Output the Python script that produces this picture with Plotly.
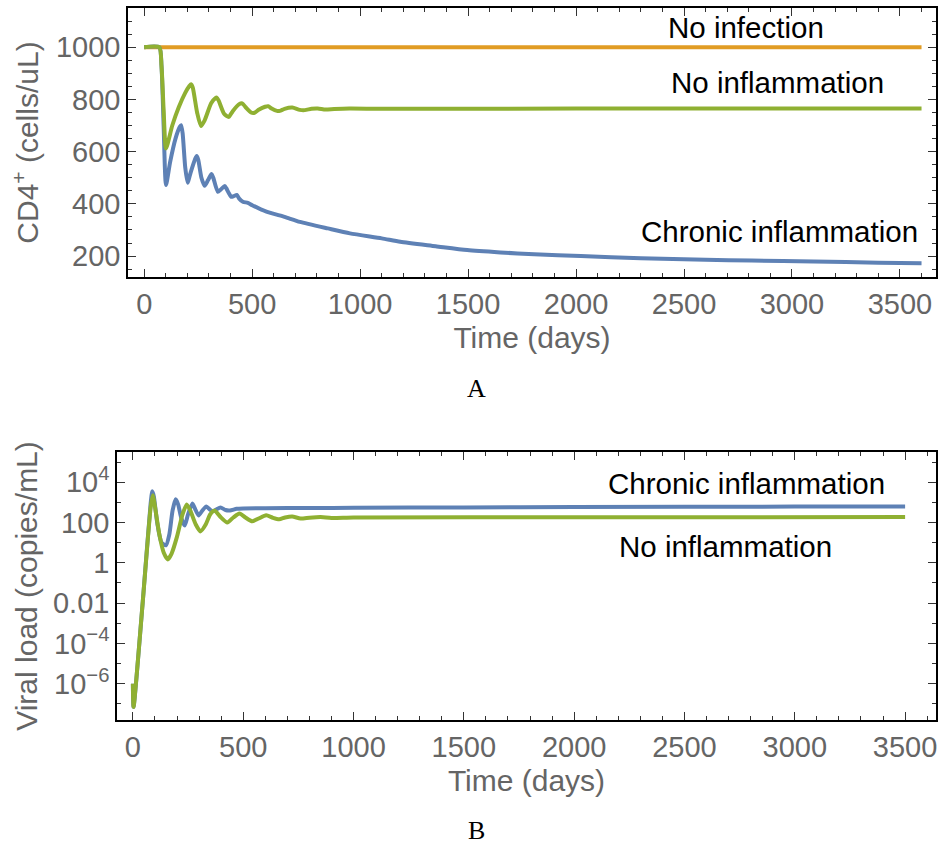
import plotly.graph_objects as go

# ---------------- Data ----------------
# Panel A: CD4+ count (cells/uL) vs time (days)
t_noinf = [0, 3600]
cd4_noinf = [1000, 1000]

t_noinfl = [0, 70, 80, 90, 101, 130, 160, 190, 210, 217, 225, 245, 263, 280, 310, 330, 336, 345,
            370, 392, 410, 440, 454, 470, 495, 511, 530, 560, 574, 590, 615, 628, 650, 686, 720,
            744, 775, 804, 840, 880, 950, 1100, 2000, 3600]
cd4_noinfl = [1000, 1000, 930, 760, 612, 700, 770, 825, 852, 858, 845, 750, 698, 720, 785, 805, 807, 795,
              745, 733, 755, 782, 785, 770, 750, 749, 760, 772, 774, 765, 756, 756, 764, 769, 760,
              759, 764, 765, 761, 763, 765, 764, 765, 765]

t_chronic = [0, 70, 80, 90, 101, 120, 145, 165, 171, 178, 190, 201, 215, 235, 243, 250, 265, 280, 295,
             310, 313, 320, 341, 355, 373, 380, 403, 415, 429, 440, 457, 480, 500, 566, 650, 721, 850,
             953, 1100, 1186, 1350, 1496, 1650, 1806, 2022, 2300, 2600, 2813, 3100, 3400, 3600]
cd4_chronic = [1000, 1000, 930, 700, 472, 560, 650, 695, 701, 670, 540, 481, 520, 570, 583, 570, 500, 469, 490,
               512, 514, 500, 446, 455, 468, 460, 427, 430, 434, 420, 408, 404, 395, 370, 350, 331, 306,
               287, 268, 255, 238, 223, 214, 207, 200, 192, 186, 183, 179, 175, 173]

# Panel B: viral load, stored as log10(copies/mL)
t_vl_noinfl = [0, 3, 45, 80, 90, 100, 120, 140, 158, 175, 200, 225, 244, 260, 285, 306, 330, 350, 370,
               395, 428, 455, 483, 510, 541, 570, 604, 635, 663, 690, 722, 760, 800, 850, 900, 1000, 2000, 3500]
log_vl_noinfl = [-6.0, -7.15, -1.9, 2.7, 3.35, 2.8, 1.4, 0.5, 0.17, 0.45, 1.3, 2.4, 2.9, 2.6, 1.9, 1.56, 1.9, 2.4, 2.6,
                 2.3, 2.0, 2.25, 2.45, 2.25, 2.06, 2.2, 2.36, 2.23, 2.16, 2.25, 2.3, 2.2, 2.24, 2.27, 2.23, 2.25, 2.26, 2.27]

t_vl_chronic = [0, 3, 45, 80, 88, 95, 110, 130, 150, 165, 180, 194, 205, 220, 235, 250, 270, 285, 298, 315,
                333, 348, 361, 378, 397, 420, 440, 470, 500, 600, 800, 1000, 1500, 2000, 3000, 3500]
log_vl_chronic = [-6.0, -7.15, -1.9, 2.9, 3.55, 3.3, 2.0, 1.0, 0.87, 1.4, 2.6, 3.15, 2.9, 2.2, 1.85, 2.4, 2.95, 2.6, 2.35, 2.6,
                  2.8, 2.65, 2.55, 2.65, 2.75, 2.62, 2.6, 2.68, 2.7, 2.71, 2.72, 2.73, 2.75, 2.77, 2.79, 2.8]

cd4_ticks = [200, 400, 600, 800, 1000]
time_ticks = [0, 500, 1000, 1500, 2000, 2500, 3000, 3500]
vl_tickvals = [1e-6, 1e-4, 1e-2, 1, 100, 1e4]
vl_ticktext = ["10<sup>\u22126</sup>", "10<sup>\u22124</sup>", "0.01", "1", "100", "10<sup>4</sup>"]

# ---------------- Styling ----------------
BLUE = "#5E81B5"
ORANGE = "#E19C24"
GREEN = "#8FB032"
GRAY = "#656565"
FONT = "Liberation Sans"
W, H = 941, 845
TICKSIZE = 29
TITLESIZE = 30

def curve(x, y, color, xa, ya):
    return go.Scatter(x=x, y=y, mode="lines", line=dict(color=color, width=4, shape="spline", smoothing=0.6),
                      xaxis=xa, yaxis=ya, showlegend=False)

fig = go.Figure()
fig.add_trace(curve(t_noinf, cd4_noinf, ORANGE, "x", "y"))
fig.add_trace(curve(t_chronic, cd4_chronic, BLUE, "x", "y"))
fig.add_trace(curve(t_noinfl, cd4_noinfl, GREEN, "x", "y"))
fig.add_trace(curve(t_vl_chronic, [10 ** v for v in log_vl_chronic], BLUE, "x2", "y2"))
fig.add_trace(curve(t_vl_noinfl, [10 ** v for v in log_vl_noinfl], GREEN, "x2", "y2"))

def frame_axis(**kw):
    d = dict(showline=True, linecolor="black", linewidth=1.5, mirror="allticks",
             ticks="inside", ticklen=8, tickwidth=1, tickcolor="#333",
             showgrid=False, zeroline=False,
             tickfont=dict(family=FONT, size=TICKSIZE, color=GRAY))
    d.update(kw)
    return d

minor_time = dict(tickvals=[v for v in range(0, 3700, 100) if v % 500 != 0], ticklen=4,
                  ticks="inside", tickcolor="#333", showgrid=False)
title_font = dict(family=FONT, size=TITLESIZE, color=GRAY)

fig.update_layout(
    width=W, height=H,
    margin=dict(l=0, r=0, t=0, b=0),
    paper_bgcolor="white", plot_bgcolor="white",
    xaxis=frame_axis(domain=[128 / W, 936 / W], range=[-75, 3667], anchor="y",
                     tickvals=time_ticks, minor=minor_time,
                     title=dict(text="Time (days)", font=title_font, standoff=8)),
    yaxis=frame_axis(domain=[1 - 277 / H, 1 - 8 / H], range=[120, 1150], anchor="x",
                     tickvals=cd4_ticks,
                     minor=dict(tickvals=[v for v in range(150, 1150, 50) if v % 200 != 0], ticklen=4,
                                ticks="inside", tickcolor="#333", showgrid=False),
                     title=dict(text="CD4<sup>+</sup> (cells/uL)", font=title_font, standoff=8)),
    xaxis2=frame_axis(domain=[117 / W, 936 / W], range=[-72, 3640], anchor="y2",
                      tickvals=time_ticks, minor=minor_time,
                      title=dict(text="Time (days)", font=title_font, standoff=8)),
    yaxis2=frame_axis(domain=[1 - 720 / H, 1 - 452 / H], range=[-7.8, 5.5], type="log", anchor="x2",
                      tickvals=vl_tickvals, ticktext=vl_ticktext,
                      minor=dict(tickvals=[10.0 ** k for k in range(-7, 6, 2)], ticklen=4,
                                 ticks="inside", tickcolor="#333", showgrid=False),
                      title=dict(text="Viral load (copies/mL)", font=title_font, standoff=6)),
)

lab = dict(family=FONT, size=29.5, color="black")
annos = [
    dict(text="No infection", x=2787, y=1076, xref="x", yref="y"),
    dict(text="No inflammation", x=2935, y=866, xref="x", yref="y"),
    dict(text="Chronic inflammation", x=2944, y=296, xref="x", yref="y"),
    dict(text="Chronic inflammation", x=2783, y=3.95, xref="x2", yref="y2"),
    dict(text="No inflammation", x=2684, y=0.82, xref="x2", yref="y2"),
]
for a in annos:
    fig.add_annotation(showarrow=False, font=lab, xanchor="center", yanchor="middle", **a)

for txt, yy in [("A", 388), ("B", 830)]:
    fig.add_annotation(text=txt, x=476 / W, y=1 - yy / H, xref="paper", yref="paper", showarrow=False,
                       font=dict(family="Liberation Serif", size=26, color="black"),
                       xanchor="center", yanchor="middle")

fig.write_html("out.html")
